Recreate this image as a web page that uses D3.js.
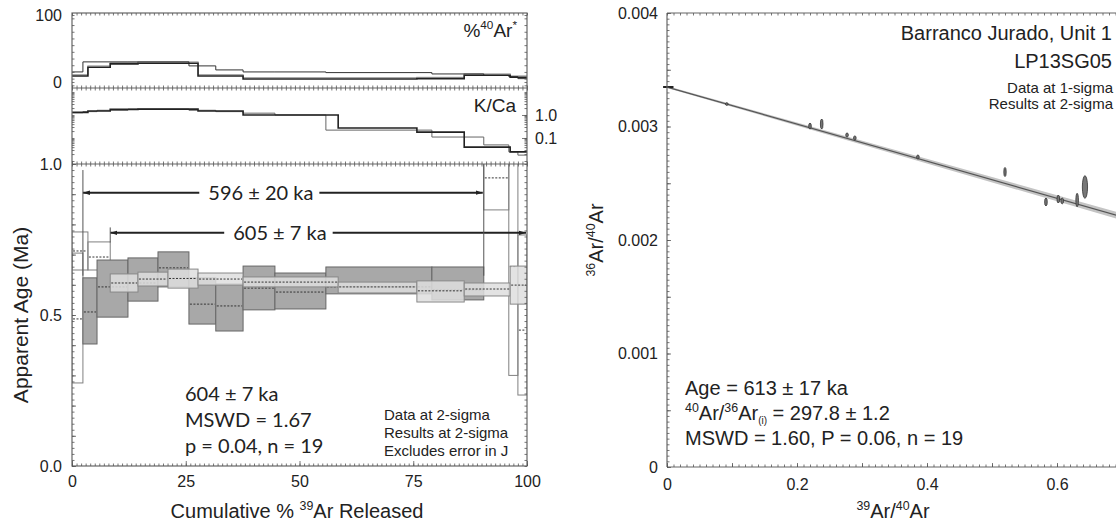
<!DOCTYPE html>
<html>
<head>
<meta charset="utf-8">
<script src="https://cdn.jsdelivr.net/npm/d3@7"></script>
<style>
  body { margin: 0; background: #fff; }
</style>
</head>
<body>
<div id="chart"></div>
<script>
// ---- values ----
// run 1 (dark grey plateau steps)
var edges1 = [0, 2.4, 5.5, 12.3, 18.9, 25.7, 31.6, 37.6, 44.6, 55.8, 79.1, 90.5, 96.0, 98.0, 100];
var ageLo1 = [0.275, 0.404, 0.493, 0.546, 0.593, 0.470, 0.447, 0.517, 0.520, 0.570, 0.550, 0.848, 0.300, 0.235];
var ageHi1 = [0.705, 0.623, 0.682, 0.689, 0.709, 0.623, 0.603, 0.662, 0.639, 0.659, 0.659, 1.050, 1.050, 0.765];
var ageMid1 = [0.487, 0.510, 0.593, 0.606, 0.656, 0.536, 0.530, 0.589, 0.576, 0.593, 0.583, 0.954, 0.660, 0.450];
var plat1 = [0, 1, 1, 1, 1, 1, 1, 1, 1, 1, 1, 0, 0, 0];
var radAr1 = [15, 30, 30, 30, 30, 24, 18, 15, 15, 14, 12, 10, 8, 5];
var kca1 = [1.25, 1.4, 1.6, 1.8, 1.8, 1.6, 1.4, 1.2, 1.0, 0.22, 0.11, 0.05, 0.025, 0.018];

// run 2 (light grey plateau steps)
var edges2 = [0, 3.5, 8.4, 14.5, 21.1, 27.7, 37.6, 58.5, 75.8, 86.2, 96.3, 100];
var ageLo2 = [0.649, 0.649, 0.576, 0.596, 0.589, 0.599, 0.593, 0.573, 0.543, 0.563, 0.536];
var ageHi2 = [0.775, 0.742, 0.636, 0.642, 0.652, 0.639, 0.626, 0.609, 0.613, 0.606, 0.662];
var ageMid2 = [0.712, 0.692, 0.606, 0.619, 0.621, 0.619, 0.609, 0.593, 0.580, 0.586, 0.599];
var plat2 = [0, 0, 1, 1, 1, 1, 1, 1, 1, 1, 1];
var radAr2 = [9, 22, 27, 28, 28, 9, 4.5, 4.5, 5, 10, 7];
var kca2 = [1.3, 1.5, 1.75, 1.8, 1.8, 1.5, 1.0, 0.27, 0.18, 0.04, 0.025];

// plateau brackets
var plateauFrom = [2.4, 8.4];
var plateauTo = [90.5, 100];
var plateauAge = [0.905, 0.772];
var plateauLabel = ["596 \u00b1 20 ka", "605 \u00b1 7 ka"];
var plateauLabelAt = [41.5, 45.7];

// isochron points (39Ar/40Ar, 36Ar/40Ar, 1-sigma errors)
var isoX = [0.092, 0.220, 0.238, 0.277, 0.289, 0.386, 0.520, 0.583, 0.602, 0.608, 0.631, 0.643];
var isoY = [0.003198, 0.003004, 0.003022, 0.002925, 0.002899, 0.002731, 0.002599, 0.002335, 0.002361, 0.002344, 0.002352, 0.002467];
var isoSx = [0.002, 0.002, 0.002, 0.002, 0.002, 0.002, 0.0018, 0.002, 0.002, 0.002, 0.002, 0.004];
var isoSy = [0.000012, 0.000026, 0.000044, 0.000018, 0.000018, 0.000018, 0.00004, 0.000035, 0.000035, 0.000026, 0.00006, 0.0001];
var isoIntercept = 0.003348;
var isoSlope = -0.001633;
var isoBand = [0.000008, 0.00003];   // half width of the error envelope at x=0 and x=0.7

var ageTicks = [0, 0.5, 1];
var arTicks = [0, 100];
var kcaTicks = [0.1, 1];
var stepTicks = [0, 25, 50, 75, 100];
var isoXTicks = [0, 0.2, 0.4, 0.6];
var isoYTicks = [0, 0.001, 0.002, 0.003, 0.004];

var helv = "'Liberation Sans', Arial, Helvetica, sans-serif";
var narrow = "'Liberation Sans Narrow', 'Arial Narrow', 'Liberation Sans', sans-serif";
var myriad = "Lato, 'Open Sans', sans-serif";

var svg = d3.select("#chart").append("svg")
  .attr("width", 1116)
  .attr("height", 526)
  .style("font-family", helv);

var defs = svg.append("defs");
defs.append("clipPath").attr("id", "clipAge")
  .append("rect").attr("x", 72).attr("y", 164).attr("width", 455).attr("height", 302);
defs.append("clipPath").attr("id", "clipAr")
  .append("rect").attr("x", 72).attr("y", 13).attr("width", 455).attr("height", 75);
defs.append("clipPath").attr("id", "clipK")
  .append("rect").attr("x", 72).attr("y", 88).attr("width", 455).attr("height", 76);
defs.append("clipPath").attr("id", "clipIso")
  .append("rect").attr("x", 667).attr("y", 13).attr("width", 460).attr("height", 454);
defs.append("marker").attr("id", "arrow")
  .attr("viewBox", "0 -4 8 8").attr("refX", 8).attr("refY", 0)
  .attr("markerWidth", 7).attr("markerHeight", 7)
  .attr("markerUnits", "userSpaceOnUse").attr("orient", "auto")
  .append("path").attr("d", "M0,-2.5L8,0L0,2.5Z").attr("fill", "#222");

// scales
var x = d3.scaleLinear().domain([0, 100]).range([72, 527]);
var yAr = d3.scaleLinear().domain([-9, 103]).range([88, 13]);
var yK = d3.scaleLog().domain([0.0074, 14.9]).range([164, 88]);
var yAge = d3.scaleLinear().domain([0, 1]).range([466, 164]);
var xi = d3.scaleLinear().domain([0, 0.7]).range([667, 1122]);
var yi = d3.scaleLinear().domain([0, 0.004]).range([467, 13]);

// text with super/subscripts
function rich(sel, size, parts) {
  var shift = 0;
  parts.forEach(function(p) {
    var t = sel.append("tspan").text(p[0]);
    var target = 0;
    if (p[1] == "sup") { t.attr("font-size", size * 0.62); target = -size * 0.4; }
    else if (p[1] == "sub") { t.attr("font-size", size * 0.5); target = size * 0.22; }
    if (target != shift) { t.attr("dy", target - shift); shift = target; }
  });
}

// inward minor ticks made with d3 axes
function ticks(axisFn, scale, values, size, tr) {
  var g = svg.append("g").attr("transform", tr)
    .call(axisFn(scale).tickValues(values).tickSize(size).tickFormat(""));
  g.select(".domain").remove();
  g.selectAll("line").attr("stroke", "#555").attr("stroke-width", 0.8);
}

function labels(axisFn, scale, values, fmt, pad, tr, size) {
  var g = svg.append("g").attr("transform", tr)
    .call(axisFn(scale).tickValues(values).tickSize(0).tickPadding(pad).tickFormat(fmt));
  g.select(".domain").remove();
  g.selectAll("text").attr("font-family", helv).attr("font-size", size || 16).attr("fill", "#222");
}

function stepPath(edges, vals, y) {
  var pts = vals.map(function(v, i) { return [edges[i], v]; });
  pts.push([edges[edges.length - 1], vals[vals.length - 1]]);
  return d3.line().x(function(d) { return x(d[0]); }).y(function(d) { return y(d[1]); })
    .curve(d3.curveStepAfter)(pts);
}

function steps(edges, lo, hi, mid, plat) {
  return lo.map(function(v, i) {
    return { x0: edges[i], x1: edges[i + 1], lo: lo[i], hi: hi[i], mid: mid[i], plat: plat[i] };
  });
}

// ================= age spectrum =================
var s1 = steps(edges1, ageLo1, ageHi1, ageMid1, plat1);
var s2 = steps(edges2, ageLo2, ageHi2, ageMid2, plat2);

var gAge = svg.append("g").attr("clip-path", "url(#clipAge)");

function drawBoxes(data, fill, stroke, op) {
  gAge.append("g").selectAll("rect").data(data).enter().append("rect")
    .attr("x", function(d) { return x(d.x0); })
    .attr("width", function(d) { return x(d.x1) - x(d.x0); })
    .attr("y", function(d) { return yAge(d.hi); })
    .attr("height", function(d) { return yAge(d.lo) - yAge(d.hi); })
    .attr("fill", fill).attr("fill-opacity", op)
    .attr("stroke", stroke).attr("stroke-width", 1);
}
function drawMeans(data) {
  gAge.append("g").selectAll("line").data(data).enter().append("line")
    .attr("x1", function(d) { return x(d.x0) + 1; })
    .attr("x2", function(d) { return x(d.x1) - 1; })
    .attr("y1", function(d) { return yAge(d.mid); })
    .attr("y2", function(d) { return yAge(d.mid); })
    .attr("stroke", "#333").attr("stroke-width", 1).attr("stroke-dasharray", "2,1.5");
}

var excluded = s1.filter(function(d) { return !d.plat; }).concat(s2.filter(function(d) { return !d.plat; }));
drawBoxes(excluded, "none", "#808080", 1);
drawMeans(excluded);
drawBoxes(s1.filter(function(d) { return d.plat; }), "#a8a8a8", "#666", 1);
drawMeans(s1.filter(function(d) { return d.plat; }));
drawBoxes(s2.filter(function(d) { return d.plat; }), "#dedede", "#888", 0.85);
drawMeans(s2.filter(function(d) { return d.plat; }));

// plateau brackets
plateauLabel.forEach(function(lab, i) {
  var yy = yAge(plateauAge[i]);
  var t = svg.append("text")
    .attr("x", x(plateauLabelAt[i])).attr("y", yy + 7)
    .attr("text-anchor", "middle")
    .attr("font-family", myriad).attr("font-size", 20).attr("fill", "#222")
    .text(lab);
  var w = t.node().getComputedTextLength();
  var cx = x(plateauLabelAt[i]);
  svg.append("line")
    .attr("x1", cx - w / 2 - 9).attr("x2", x(plateauFrom[i]))
    .attr("y1", yy).attr("y2", yy)
    .attr("stroke", "#222").attr("stroke-width", 2).attr("marker-end", "url(#arrow)");
  svg.append("line")
    .attr("x1", cx + w / 2 + 6).attr("x2", x(plateauTo[i]) - 1)
    .attr("y1", yy).attr("y2", yy)
    .attr("stroke", "#222").attr("stroke-width", 2).attr("marker-end", "url(#arrow)");
});
// bracket end markers
svg.append("line").attr("x1", x(2.4)).attr("x2", x(2.4)).attr("y1", yAge(0.98)).attr("y2", yAge(0.63))
  .attr("stroke", "#555").attr("stroke-width", 1);
svg.append("line").attr("x1", x(90.5)).attr("x2", x(90.5)).attr("y1", yAge(1)).attr("y2", yAge(0.63))
  .attr("stroke", "#555").attr("stroke-width", 1);
svg.append("line").attr("x1", x(8.4)).attr("x2", x(8.4)).attr("y1", yAge(0.79)).attr("y2", yAge(0.74))
  .attr("stroke", "#555").attr("stroke-width", 1);

// %40Ar* panel
var gAr = svg.append("g").attr("clip-path", "url(#clipAr)");
gAr.append("path").attr("d", stepPath(edges2, radAr2.map(function(v) { return v + 2; }), yAr))
  .attr("fill", "none").attr("stroke", "#aaa").attr("stroke-width", 1.2);
gAr.append("path").attr("d", stepPath(edges1, radAr1, yAr))
  .attr("fill", "none").attr("stroke", "#333").attr("stroke-width", 1);
gAr.append("path").attr("d", stepPath(edges2, radAr2, yAr))
  .attr("fill", "none").attr("stroke", "#222").attr("stroke-width", 1.6);

// K/Ca panel
var gK = svg.append("g").attr("clip-path", "url(#clipK)");
gK.append("path").attr("d", stepPath(edges1, kca1, yK))
  .attr("fill", "none").attr("stroke", "#666").attr("stroke-width", 1);
gK.append("path").attr("d", stepPath(edges2, kca2, yK))
  .attr("fill", "none").attr("stroke", "#222").attr("stroke-width", 1.6);

// frames
svg.append("rect").attr("x", 72).attr("y", 13).attr("width", 455).attr("height", 453)
  .attr("fill", "none").attr("stroke", "#666").attr("stroke-width", 1.2);
[88, 164].forEach(function(yy) {
  svg.append("line").attr("x1", 72).attr("x2", 527).attr("y1", yy).attr("y2", yy)
    .attr("stroke", "#666").attr("stroke-width", 1.2);
});

// ticks, left figure
var minorX = d3.range(0, 100.01, 1);
[13, 88, 164].forEach(function(yy) { ticks(d3.axisBottom, x, minorX, 2.5, "translate(0," + yy + ")"); });
[88, 164, 466].forEach(function(yy) { ticks(d3.axisTop, x, minorX, 2.5, "translate(0," + yy + ")"); });
ticks(d3.axisTop, x, stepTicks, 5, "translate(0,466)");
var minorAr = d3.range(-5, 101, 10).concat([0, 100]);
ticks(d3.axisRight, yAr, minorAr, 2.5, "translate(72,0)");
ticks(d3.axisLeft, yAr, minorAr, 2.5, "translate(527,0)");
var minorK = [];
[0.01, 0.1, 1, 10].forEach(function(dec) { for (var k = 1; k < 10; k++) if (dec * k < 14.9) minorK.push(dec * k); });
ticks(d3.axisRight, yK, minorK, 2.5, "translate(72,0)");
ticks(d3.axisLeft, yK, minorK, 2.5, "translate(527,0)");
ticks(d3.axisLeft, yK, kcaTicks, 5, "translate(527,0)");
var minorAge = d3.range(0, 1.001, 0.02);
ticks(d3.axisRight, yAge, minorAge, 2.5, "translate(72,0)");
ticks(d3.axisLeft, yAge, minorAge, 2.5, "translate(527,0)");
ticks(d3.axisRight, yAge, d3.range(0, 1.001, 0.1), 4, "translate(72,0)");

// tick labels
labels(d3.axisLeft, yAr, arTicks, d3.format("d"), 10, "translate(72,0)");
labels(d3.axisLeft, yAge, ageTicks, d3.format(".1f"), 10, "translate(72,0)");
labels(d3.axisRight, yK, kcaTicks, d3.format(".1f"), 8, "translate(527,0)");
labels(d3.axisBottom, x, stepTicks, d3.format("d"), 10, "translate(0,466)");

// panel titles
var tAr = svg.append("text").attr("x", 517).attr("y", 37).attr("text-anchor", "end")
  .attr("font-size", 19).attr("fill", "#222");
rich(tAr, 19, [["%", null], ["40", "sup"], ["Ar", null], ["*", "sup"]]);
svg.append("text").attr("x", 516).attr("y", 112).attr("text-anchor", "end")
  .attr("font-size", 19).attr("fill", "#222").text("K/Ca");

// axis titles
svg.append("text").attr("transform", "translate(28,315) rotate(-90)")
  .attr("text-anchor", "middle").attr("font-size", 21).attr("fill", "#222")
  .text("Apparent Age (Ma)");
var tX = svg.append("text").attr("x", 297).attr("y", 518).attr("text-anchor", "middle")
  .attr("font-size", 20).attr("fill", "#222");
rich(tX, 20, [["Cumulative % ", null], ["39", "sup"], ["Ar Released", null]]);

// results
["604 \u00b1 7 ka", "MSWD = 1.67", "p = 0.04, n = 19"].forEach(function(s, i) {
  svg.append("text").attr("x", 185).attr("y", [401, 427, 453][i])
    .attr("font-family", myriad).attr("font-size", 20).attr("fill", "#222").text(s);
});
["Data at 2-sigma", "Results at 2-sigma", "Excludes error in J"].forEach(function(s, i) {
  svg.append("text").attr("x", 384).attr("y", [420, 438, 456][i])
    .attr("font-family", narrow).attr("font-size", 15).attr("fill", "#222").text(s);
});

// ================= isochron =================
var gIso = svg.append("g").attr("clip-path", "url(#clipIso)");
var bandPts = [0, 0.7];
gIso.append("path")
  .datum(bandPts)
  .attr("d", d3.area()
    .x(function(d) { return xi(d); })
    .y0(function(d, i) { return yi(isoIntercept + isoSlope * d - isoBand[i]); })
    .y1(function(d, i) { return yi(isoIntercept + isoSlope * d + isoBand[i]); }))
  .attr("fill", "#c4c4c4");
gIso.append("path")
  .datum(bandPts)
  .attr("d", d3.line().x(function(d) { return xi(d); }).y(function(d) { return yi(isoIntercept + isoSlope * d); }))
  .attr("stroke", "#555").attr("stroke-width", 1.2).attr("fill", "none");

gIso.selectAll("ellipse").data(isoX).enter().append("ellipse")
  .attr("cx", function(d) { return xi(d); })
  .attr("cy", function(d, i) { return yi(isoY[i]); })
  .attr("rx", function(d, i) { return xi(d + isoSx[i]) - xi(d); })
  .attr("ry", function(d, i) { return yi(isoY[i]) - yi(isoY[i] + isoSy[i]); })
  .attr("fill", "#777").attr("stroke", "#333").attr("stroke-width", 0.8);

// intercept marker
svg.append("line").attr("x1", xi(-0.006)).attr("x2", xi(0.01))
  .attr("y1", yi(isoIntercept)).attr("y2", yi(isoIntercept))
  .attr("stroke", "#222").attr("stroke-width", 2);

// frame and ticks
svg.append("line").attr("x1", 667).attr("x2", 667).attr("y1", 13).attr("y2", 467)
  .attr("stroke", "#666").attr("stroke-width", 1.2);
svg.append("line").attr("x1", 667).attr("x2", 1116).attr("y1", 13).attr("y2", 13)
  .attr("stroke", "#666").attr("stroke-width", 1.2);
svg.append("line").attr("x1", 667).attr("x2", 1116).attr("y1", 467).attr("y2", 467)
  .attr("stroke", "#666").attr("stroke-width", 1.2);
var minorIX = d3.range(0, 0.701, 0.01);
ticks(d3.axisTop, xi, minorIX, 2.5, "translate(0,467)");
ticks(d3.axisBottom, xi, minorIX, 2.5, "translate(0,13)");
ticks(d3.axisTop, xi, d3.range(0, 0.701, 0.1), 4, "translate(0,467)");
var minorIY = d3.range(0, 0.00401, 0.00005);
ticks(d3.axisRight, yi, minorIY, 2.5, "translate(667,0)");
ticks(d3.axisRight, yi, d3.range(0, 0.00401, 0.0005), 4, "translate(667,0)");

labels(d3.axisLeft, yi, isoYTicks, function(d) { return d === 0 ? "0" : d3.format(".3f")(d); }, 9, "translate(667,0)");
labels(d3.axisBottom, xi, isoXTicks, function(d) { return d === 0 ? "0" : d3.format(".1f")(d); }, 12, "translate(0,467)");

var tIy = svg.append("text").attr("transform", "translate(603,240) rotate(-90)")
  .attr("text-anchor", "middle").attr("font-size", 20).attr("fill", "#222");
rich(tIy, 20, [["36", "sup"], ["Ar/", null], ["40", "sup"], ["Ar", null]]);
var tIx = svg.append("text").attr("x", 893).attr("y", 518).attr("text-anchor", "middle")
  .attr("font-size", 20).attr("fill", "#222");
rich(tIx, 20, [["39", "sup"], ["Ar/", null], ["40", "sup"], ["Ar", null]]);

// titles
svg.append("text").attr("x", 1112).attr("y", 40).attr("text-anchor", "end")
  .attr("font-size", 20).attr("fill", "#222").text("Barranco Jurado, Unit 1");
svg.append("text").attr("x", 1112).attr("y", 68).attr("text-anchor", "end")
  .attr("font-size", 20).attr("fill", "#222").text("LP13SG05");
svg.append("text").attr("x", 1113).attr("y", 93).attr("text-anchor", "end")
  .attr("font-family", narrow).attr("font-size", 15).attr("fill", "#222").text("Data at 1-sigma");
svg.append("text").attr("x", 1113).attr("y", 109).attr("text-anchor", "end")
  .attr("font-family", narrow).attr("font-size", 15).attr("fill", "#222").text("Results at 2-sigma");

svg.append("text").attr("x", 685).attr("y", 395).attr("font-size", 20).attr("fill", "#222")
  .text("Age = 613 \u00b1 17 ka");
var tR = svg.append("text").attr("x", 685).attr("y", 420).attr("font-size", 20).attr("fill", "#222");
rich(tR, 20, [["40", "sup"], ["Ar/", null], ["36", "sup"], ["Ar", null], ["(i)", "sub"], [" = 297.8 \u00b1 1.2", null]]);
svg.append("text").attr("x", 685).attr("y", 445).attr("font-size", 20).attr("fill", "#222")
  .text("MSWD = 1.60, P = 0.06, n = 19");
</script>
</body>
</html>
